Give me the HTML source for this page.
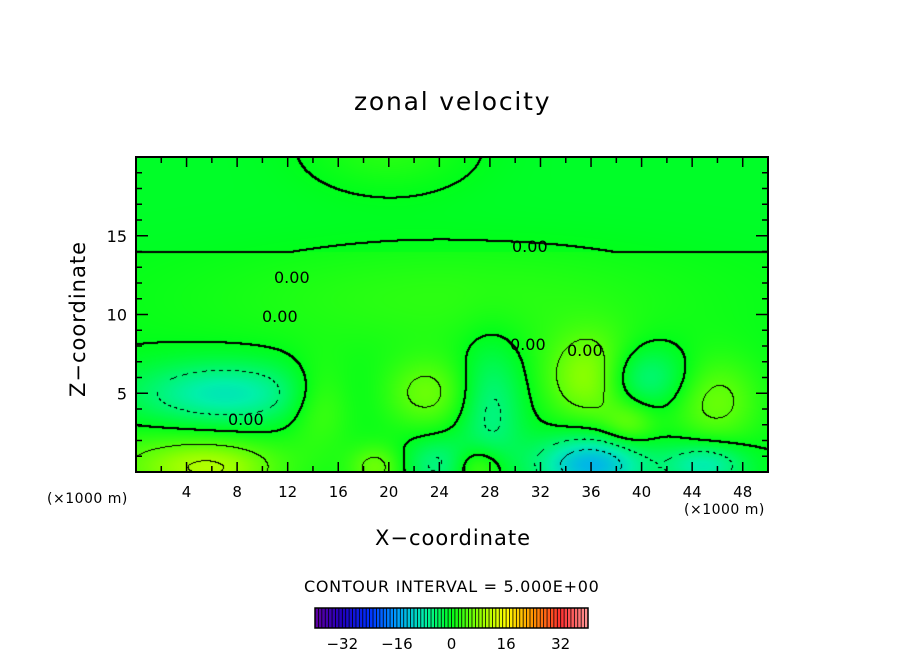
<!DOCTYPE html>
<html><head><meta charset="utf-8"><style>
body{margin:0;background:#fff;width:904px;height:654px;position:relative;overflow:hidden;font-family:"DejaVu Sans",sans-serif}
.t{position:absolute;white-space:nowrap;color:#000}
</style></head><body>
<div class="t" style="left:354px;top:87px;font-size:25px;letter-spacing:1.8px">zonal velocity</div>
<canvas id="cv" width="632" height="315" style="position:absolute;left:136px;top:157px"></canvas>
<svg id="ax" width="904" height="654" style="position:absolute;left:0;top:0"></svg>
<div class="t" style="left:47px;top:491px;font-size:14px;letter-spacing:0.5px">(×1000 m)</div>
<div class="t" style="left:684px;top:502px;font-size:14px;letter-spacing:0.5px">(×1000 m)</div>
<div class="t" style="left:375px;top:526px;font-size:21px;letter-spacing:1px">X−coordinate</div>
<div class="t" style="left:66px;top:397px;font-size:21px;letter-spacing:1px;transform:rotate(-90deg);transform-origin:0 0">Z−coordinate</div>
<div class="t" style="left:304px;top:577px;font-size:16px;letter-spacing:0.7px">CONTOUR INTERVAL = 5.000E+00</div>
<script>
const blobX=[7,4,14.5,23,28,36,36,40,45.8,24,19,6,27,44,25,39,46,20];
const blobZ=[5,0.5,4.5,5,4,0.5,6,6,4.5,0.5,0.3,0.2,0.3,0.5,11,3,0.5,20.5];
const blobSX=[5,6,1.8,2.5,1.8,3,2.5,2.5,2.5,2,1.5,3,1.5,2,14,1.5,2,4.5];
const blobSZ=[1.4,1.5,1.8,1.6,3,1.3,2,1.4,2,1.2,1,1,1,1,2.5,1,1,1.8];
const blobV=[-9,6,5,6,-6,-14,9,-7,6,-6,6,5,7,-5,2.5,5,-5,3];
const cbVals=[-40,-32,-24,-16,-8,0,8,16,24,32,40];
const cbCols=[[96,0,160],[32,0,192],[0,48,255],[0,160,255],[0,240,170],[0,255,26],[140,255,0],[255,255,0],[255,144,0],[255,48,48],[255,150,150]];
const cbTicks=[-32,-16,0,16,32];
const xTicks=[4,8,12,16,20,24,28,32,36,40,44,48];
const yTicks=[5,10,15];
const X=v=>136+v*12.64, Z=v=>472-v*15.75, C=v=>315+(v+40)*273/80;
function col(v){v=Math.max(-40,Math.min(40,v));for(let i=0;i<cbVals.length-1;i++){if(v<=cbVals[i+1]){const t=(v-cbVals[i])/(cbVals[i+1]-cbVals[i]);return cbCols[i].map((c,k)=>Math.round(c+(cbCols[i+1][k]-c)*t));}}return cbCols[10];}
function field(x,z){let s=0;for(let i=0;i<blobX.length;i++){const dx=(x-blobX[i])/blobSX[i],dz=(z-blobZ[i])/blobSZ[i];s+=blobV[i]*Math.exp(-(dx*dx+dz*dz)/2);}return s+(z>14?-0.8:0);}
const cv=document.getElementById('cv'),ctx=cv.getContext('2d'),W=632,H=315;
const img=ctx.createImageData(W,H),F=new Float32Array(W*H);
for(let j=0;j<H;j++)for(let i=0;i<W;i++)F[j*W+i]=field(i/12.64,(H-j)/15.75);
const lvl=v=>Math.floor(v/5);
const black=new Uint8Array(W*H);
for(let j=0;j<H;j++)for(let i=0;i<W;i++){const v=F[j*W+i],a=lvl(v);
 const nb=[];if(i<W-1)nb.push(F[j*W+i+1]);if(j<H-1)nb.push(F[(j+1)*W+i]);
 for(const n of nb){if(lvl(n)!==a){
  const zero=(v<0)!==(n<0);
  const neg=Math.min(v,n)<0&&!zero;
  if(neg&&((i+j)>>2)%2)continue;
  black[j*W+i]=1;
  if(zero){if(i+1<W)black[j*W+i+1]=1;if(j+1<H)black[(j+1)*W+i]=1;if(i+1<W&&j+1<H)black[(j+1)*W+i+1]=1;}
 }}}
for(let p=0;p<W*H;p++){const c=black[p]?[0,0,0]:col(F[p]);img.data[p*4]=c[0];img.data[p*4+1]=c[1];img.data[p*4+2]=c[2];img.data[p*4+3]=255;}
ctx.putImageData(img,0,0);
const ns='http://www.w3.org/2000/svg',ax=document.getElementById('ax');
function mk(t,a){const e=document.createElementNS(ns,t);for(const k in a)e.setAttribute(k,a[k]);ax.appendChild(e);return e;}
let e=mk('rect',{x:136,y:157,width:632,height:315,fill:'none',stroke:'#000','stroke-width':2});


for(let v=0;v<=50;v+=2){const L=v%4===0?10:6;mk('line',{x1:X(v),x2:X(v),y1:472,y2:472-L,stroke:'#000','stroke-width':1.5});mk('line',{x1:X(v),x2:X(v),y1:157,y2:157+L,stroke:'#000','stroke-width':1.5});}
for(let v=1;v<20;v++){const L=v%5===0?12:6;mk('line',{x1:136,x2:136+L,y1:Z(v),y2:Z(v),stroke:'#000','stroke-width':1.5});mk('line',{x1:768,x2:768-L,y1:Z(v),y2:Z(v),stroke:'#000','stroke-width':1.5});}
xTicks.forEach(v=>{const t=mk('text',{x:X(v),y:497,'text-anchor':'middle','font-size':15,'font-family':'DejaVu Sans'});t.textContent=v;

});
yTicks.forEach(v=>{const t=mk('text',{x:127,y:Z(v)+6,'text-anchor':'end','font-size':16,'font-family':'DejaVu Sans'});t.textContent=v;

});
[[228,425],[274,283],[262,322],[512,252],[510,350],[567,356]].forEach(p=>{const t=mk('text',{x:p[0],y:p[1],'font-size':16,'font-family':'DejaVu Sans'});t.textContent='0.00';

});
for(let v=-40;v<40;v+=1){const s=mk('rect',{x:C(v),y:608,width:273/80+0.3,height:20,fill:'rgb('+col(v+0.5).join(',')+')'});


if(v>-40)mk('line',{x1:C(v),x2:C(v),y1:608,y2:628,stroke:'#000','stroke-width':0.8});}
e=mk('rect',{x:315,y:608,width:273,height:20,fill:'none',stroke:'#000','stroke-width':1.5});


cbTicks.forEach(v=>{const t=mk('text',{x:C(v),y:649,'text-anchor':'middle','font-size':15,'font-family':'DejaVu Sans'});t.textContent=v<0?'−'+(-v):v;

});
</script>
</body></html>
